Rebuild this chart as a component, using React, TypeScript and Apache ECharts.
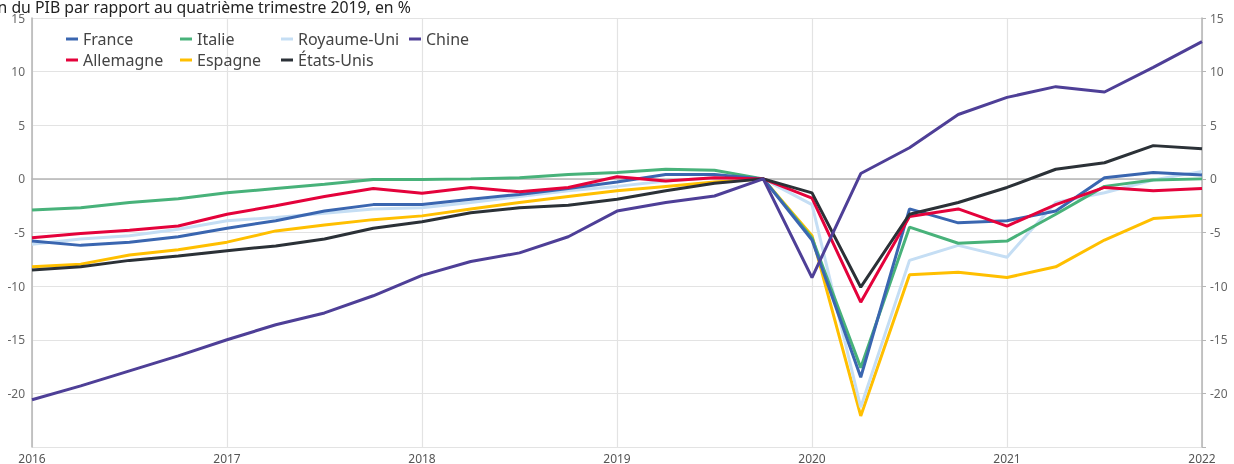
import React, { useEffect, useRef } from "react";
import * as echarts from "echarts";

const quarters = [
  "2016-T1","2016-T2","2016-T3","2016-T4",
  "2017-T1","2017-T2","2017-T3","2017-T4",
  "2018-T1","2018-T2","2018-T3","2018-T4",
  "2019-T1","2019-T2","2019-T3","2019-T4",
  "2020-T1","2020-T2","2020-T3","2020-T4",
  "2021-T1","2021-T2","2021-T3","2021-T4",
  "2022-T1",
];

const france = [-5.8,-6.2,-5.9,-5.4,-4.6,-3.9,-3.0,-2.4,-2.4,-1.9,-1.45,-0.9,-0.3,0.4,0.4,0,-5.7,-18.5,-2.8,-4.1,-3.9,-3.0,0.1,0.6,0.35];
const allemagne = [-5.5,-5.1,-4.8,-4.4,-3.3,-2.5,-1.65,-0.9,-1.35,-0.8,-1.2,-0.8,0.2,-0.2,0.1,0,-1.8,-11.5,-3.5,-2.8,-4.4,-2.4,-0.8,-1.1,-0.9];
const italie = [-2.9,-2.7,-2.2,-1.85,-1.3,-0.9,-0.5,-0.05,-0.05,0.0,0.1,0.4,0.6,0.9,0.8,0,-5.5,-17.6,-4.5,-6.0,-5.8,-3.3,-0.7,-0.1,0.0];
const espagne = [-8.2,-7.95,-7.1,-6.6,-5.9,-4.85,-4.3,-3.8,-3.45,-2.8,-2.2,-1.65,-1.1,-0.7,-0.3,0,-5.3,-22.1,-8.95,-8.7,-9.2,-8.2,-5.7,-3.7,-3.4];
const royaumeUni = [-6.1,-5.6,-5.3,-4.7,-3.9,-3.6,-3.2,-2.8,-2.7,-2.2,-1.65,-1.1,-0.7,-0.2,0.1,0,-2.4,-21.3,-7.6,-6.2,-7.3,-2.2,-1.3,-0.1,0.7];
const etatsUnis = [-8.5,-8.2,-7.6,-7.2,-6.7,-6.25,-5.6,-4.6,-4.0,-3.15,-2.7,-2.45,-1.9,-1.1,-0.4,0,-1.3,-10.1,-3.3,-2.2,-0.8,0.9,1.5,3.1,2.8];
const chine = [-20.6,-19.3,-17.9,-16.5,-15.0,-13.6,-12.5,-10.9,-9.0,-7.7,-6.9,-5.4,-3.0,-2.2,-1.6,0,-9.2,0.5,2.9,6.0,7.6,8.6,8.1,10.4,12.8];

const yTicks = [-25, -20, -15, -10, -5, 0, 5, 10, 15];

const titleText = "Évolution du PIB par rapport au quatrième trimestre 2019, en %";

const FONT = "'Noto Sans', 'Open Sans', sans-serif";

const seriesDefs = [
  { name: "Espagne", data: espagne, color: "#ffbf00" },
  { name: "Royaume-Uni", data: royaumeUni, color: "#c5def4" },
  { name: "Italie", data: italie, color: "#48b27a" },
  { name: "France", data: france, color: "#3a66b0" },
  { name: "Allemagne", data: allemagne, color: "#e4023b" },
  { name: "États-Unis", data: etatsUnis, color: "#2b3137" },
  { name: "Chine", data: chine, color: "#4e3f97" },
];

export default function App() {
  const ref = useRef<HTMLDivElement>(null);
  useEffect(() => {
    if (!ref.current) return;
    const chart = echarts.init(ref.current, undefined, { renderer: "svg" });
    const yMin = yTicks[0];
    const yMax = yTicks[yTicks.length - 1];
    const legendBase = {
      orient: "vertical" as const,
      top: 31,
      itemWidth: 12,
      itemHeight: 3,
      itemGap: 5,
      icon: "rect",
      padding: 0,
      textStyle: { fontFamily: FONT, fontSize: 16, color: "#444", lineHeight: 16, padding: [0, 0, 0, 0] },
    };
    const axisLabelY = {
      fontFamily: FONT,
      fontSize: 12,
      color: "#666",
      formatter: (v: number) => (v === yMin ? "" : String(v)),
    };
    chart.setOption({
      animation: false,
      grid: { left: 32, right: 32, top: 18, bottom: 17, containLabel: false },
      graphic: [
        {
          type: "text",
          x: -62,
          y: 7,
          style: {
            text: titleText,
            fontFamily: FONT,
            fontSize: 15.8,
            fill: "#222",
            verticalAlign: "middle",
            align: "left",
          },
        },
      ],
      legend: [
        { ...legendBase, left: 66, data: ["France", "Allemagne"] },
        { ...legendBase, left: 180, data: ["Italie", "Espagne"] },
        { ...legendBase, left: 281, data: ["Royaume-Uni", "États-Unis"] },
        { ...legendBase, left: 409, data: ["Chine"] },
      ],
      xAxis: {
        type: "category",
        data: quarters,
        boundaryGap: false,
        axisLine: { show: true, lineStyle: { color: "#b5b5b5", width: 1.5 } },
        axisTick: { show: false },
        axisLabel: {
          interval: (i: number) => i % 4 === 0,
          formatter: (v: string) => v.slice(0, 4),
          fontFamily: FONT,
          fontSize: 12,
          color: "#555",
          margin: 5,
          showMaxLabel: true,
        },
        splitLine: {
          show: true,
          interval: (i: number) => i % 4 === 0,
          lineStyle: { color: "#e3e3e3", width: 1.2 },
        },
      },
      yAxis: [
        {
          type: "value",
          min: yMin,
          max: yMax,
          interval: 5,
          position: "left",
          axisLine: { show: true, lineStyle: { color: "#b5b5b5", width: 1.5 } },
          axisTick: { show: false },
          axisLabel: { ...axisLabelY, margin: 7 },
          splitLine: { show: true, lineStyle: { color: "#e3e3e3", width: 1.2 } },
        },
        {
          type: "value",
          min: yMin,
          max: yMax,
          interval: 5,
          position: "right",
          axisLine: { show: true, lineStyle: { color: "#b5b5b5", width: 1.5 } },
          axisTick: { show: true, length: 4, lineStyle: { color: "#b5b5b5" } },
          axisLabel: { ...axisLabelY, margin: 8 },
          splitLine: { show: false },
        },
      ],
      series: seriesDefs.map((s) => ({
        name: s.name,
        type: "line",
        yAxisIndex: 0,
        data: s.data,
        symbol: "none",
        showSymbol: false,
        color: s.color,
        lineStyle: { width: 3, color: s.color },
        emphasis: { disabled: true },
      })),
    });
    return () => chart.dispose();
  }, []);
  return (
    <div
      ref={ref}
      style={{ position: "fixed", left: 0, top: 0, width: 1234, height: 464 }}
    />
  );
}
